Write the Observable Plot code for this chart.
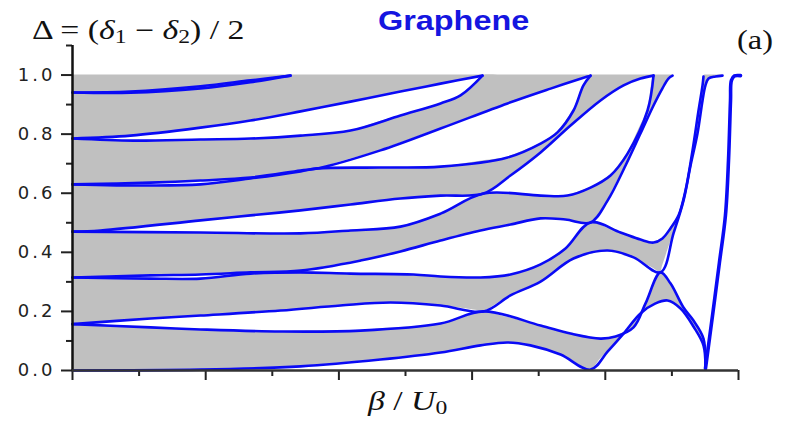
<!DOCTYPE html>
<html><head><meta charset="utf-8">
<script src="https://cdn.jsdelivr.net/npm/d3@7"></script>
<script src="https://cdn.jsdelivr.net/npm/@observablehq/plot@0.6"></script>
<style>
body{margin:0;background:#fff;}
#wrap{position:relative;width:804px;height:421px;overflow:hidden;background:#fff;}
#wrap svg{position:absolute;left:0;top:0;}
.lbl{position:absolute;white-space:nowrap;font-family:"Liberation Serif","Times New Roman",serif;color:#111;transform-origin:left top;line-height:1;}
.ttl{position:absolute;white-space:nowrap;font-family:"Liberation Sans",Arial,sans-serif;font-weight:bold;color:#1515e0;transform-origin:left top;line-height:1;}
.lbl sub{font-size:0.7em;vertical-align:-0.2em;line-height:0;}
</style></head><body><div id="wrap"></div>
<script>
// ---- data (x in units of the axis ticks, y = Delta) ----
const yMajorTicks = [0, 0.2, 0.4, 0.6, 0.8, 1.0];
const yMinorTicks = [0.1, 0.3, 0.5, 0.7, 0.9, 1.1];
const xMajorTicks = [0, 1, 2, 3, 4, 5];
const xMinorTicks = [0.5, 1.5, 2.5, 3.5, 4.5];

const bottomEdge = [[0,0],[0.961,0.003],[1.712,0.014],[2.312,0.037],[2.763,0.061],[3.063,0.085],[3.266,0.095],[3.438,0.085],[3.664,0.054],[3.889,0.003],[4.017,0.064],[4.137,0.125],[4.264,0.193],[4.377,0.227],[4.467,0.237],[4.565,0.210],[4.662,0.149],[4.737,0.085],[4.752,0.007]];
const tongue1Low = [[0,0.157],[0.586,0.146],[0.961,0.139],[1.562,0.132],[2.162,0.135],[2.763,0.159],[3.086,0.200],[3.514,0.152],[3.739,0.125],[3.964,0.108],[4.077,0.115],[4.212,0.146],[4.302,0.227],[4.414,0.332],[4.489,0.295],[4.587,0.213],[4.662,0.169],[4.737,0.108],[4.752,0.007]];
const tongue1High = [[0,0.157],[0.586,0.176],[0.961,0.186],[1.562,0.203],[2.012,0.220],[2.387,0.230],[2.763,0.220],[3.086,0.200],[3.288,0.254],[3.514,0.301],[3.761,0.379],[4.017,0.406],[4.212,0.383],[4.414,0.332],[4.512,0.464],[4.587,0.575],[4.640,0.694],[4.692,0.802],[4.730,0.914],[4.752,0.965],[4.775,0.988],[4.827,0.995],[4.880,0.998]];
const tongue2Low = [[0,0.315],[0.586,0.311],[0.961,0.311],[1.336,0.328],[1.712,0.332],[2.087,0.328],[2.560,0.325],[2.763,0.318],[3.063,0.315],[3.288,0.325],[3.514,0.359],[3.701,0.413],[3.889,0.501],[4.114,0.467],[4.264,0.443],[4.362,0.433],[4.429,0.447],[4.489,0.481],[4.550,0.525],[4.602,0.609],[4.655,0.745],[4.700,0.880],[4.730,0.965],[4.737,0.995]];
const tongue2High = [[0,0.315],[0.586,0.322],[0.961,0.325],[1.336,0.332],[1.712,0.338],[2.162,0.372],[2.462,0.403],[2.763,0.440],[3.063,0.474],[3.288,0.494],[3.514,0.515],[3.701,0.511],[3.889,0.501],[4.017,0.575],[4.152,0.694],[4.264,0.802],[4.362,0.897],[4.429,0.955],[4.474,0.988],[4.505,0.998]];
const tongue3Low = [[0,0.470],[0.961,0.467],[1.712,0.464],[2.087,0.474],[2.462,0.487],[2.763,0.531],[3.086,0.599],[3.514,0.592],[3.716,0.592],[3.889,0.619],[4.039,0.660],[4.167,0.734],[4.317,0.880],[4.362,0.998]];
const tongue3High = [[0,0.470],[0.21,0.474],[0.961,0.508],[1.336,0.525],[1.712,0.542],[2.087,0.562],[2.462,0.582],[2.763,0.592],[3.086,0.599],[3.288,0.660],[3.514,0.738],[3.739,0.829],[3.964,0.914],[4.137,0.965],[4.264,0.988],[4.362,0.998]];
const tongue4Low = [[0,0.630],[0.586,0.626],[0.961,0.630],[1.336,0.650],[1.712,0.674],[1.839,0.684],[2.312,0.687],[2.763,0.690],[3.266,0.721],[3.514,0.768],[3.641,0.806],[3.761,0.880],[3.836,0.965],[3.889,0.998]];
const tongue4High = [[0,0.630],[0.586,0.636],[0.961,0.643],[1.336,0.653],[1.712,0.677],[1.839,0.684],[2.312,0.745],[2.763,0.819],[3.266,0.904],[3.589,0.954],[3.866,0.995],[3.889,0.998]];
const tongue5Low = [[0,0.785],[0.458,0.778],[0.961,0.782],[1.336,0.785],[1.712,0.795],[2.087,0.812],[2.462,0.863],[2.763,0.904],[2.913,0.931],[3.078,0.998]];
const tongue5High = [[0,0.785],[0.435,0.795],[0.961,0.822],[1.336,0.846],[1.712,0.877],[2.087,0.910],[2.462,0.944],[2.763,0.971],[3.078,0.998]];
const tongue6Low = [[0,0.941],[0.435,0.940],[0.961,0.955],[1.336,0.976],[1.637,0.998]];
const tongue6High = [[0,0.941],[0.435,0.944],[0.961,0.962],[1.336,0.982],[1.637,0.998]];
const rightEdge = [[4.752,0.007],[4.805,0.186],[4.857,0.366],[4.902,0.525],[4.925,0.711],[4.940,0.914],[4.947,0.982],[4.970,0.997],[5.015,0.998]];
const topLevel = 1.0;

// ---- helpers to build stable (grey) bands between two edges ----
function interp(c, x) {
  if (x <= c[0][0]) return c[0][1];
  for (let i = 1; i < c.length; i++) {
    if (x <= c[i][0]) {
      const [x0, y0] = c[i - 1], [x1, y1] = c[i];
      return x1 === x0 ? y1 : y0 + (y1 - y0) * (x - x0) / (x1 - x0);
    }
  }
  return c[c.length - 1][1];
}
function withTop(c) { const l = c[c.length - 1]; return c.concat([[l[0] + 0.01, topLevel], [5.2, topLevel]]); }
function band(lower, upper) {
  const xEnd = Math.min(lower[lower.length - 1][0], upper[upper.length - 1][0]);
  const xs = Array.from(new Set([...lower, ...upper].map(d => d[0]).filter(x => x <= xEnd))).sort((a, b) => a - b);
  return xs.map(x => ({x, y1: interp(lower, x), y2: interp(upper, x)}));
}
const bands = [
  band(bottomEdge, tongue1Low),
  band(tongue1High, withTop(tongue2Low)),
  band(tongue2High, withTop(tongue3Low)),
  band(tongue3High, withTop(tongue4Low)),
  band(tongue4High, withTop(tongue5Low)),
  band(tongue5High, withTop(tongue6Low)),
  band(tongue6High, [[0, topLevel], [5.2, topLevel]])
];
const edges = [bottomEdge, tongue1Low, tongue1High, tongue2Low, tongue2High, tongue3Low, tongue3High,
  tongue4Low, tongue4High, tongue5Low, tongue5High, tongue6Low, tongue6High];

const blue = "#0a0af5";
const chart = Plot.plot({
  width: 804, height: 421,
  marginLeft: 72, marginRight: 66, marginTop: 45, marginBottom: 51,
  style: {fontFamily: "'DejaVu Sans', sans-serif", fontSize: "18px", color: "#222", background: "transparent", letterSpacing: "3px"},
  x: {domain: [0, 5], axis: null},
  y: {domain: [0, 1.1], axis: null},
  marks: [
    ...bands.map(b => Plot.areaY(b, {x: "x", y1: "y1", y2: "y2", fill: "#c0c0c0", curve: "catmull-rom"})),
    ...edges.map(c => Plot.line(c, {x: d => d[0], y: d => d[1], stroke: blue, strokeWidth: 2.6, curve: "catmull-rom"})),
    Plot.line(rightEdge, {x: d => d[0], y: d => d[1], stroke: blue, strokeWidth: 3.6, curve: "catmull-rom"}),
    Plot.axisY({ticks: yMajorTicks, tickFormat: d3.format(".1f"), tickSize: 11, tickPadding: 6, label: null, strokeWidth: 2, fontSize: 18}),
    Plot.axisY({ticks: yMinorTicks, tickFormat: () => "", tickSize: 6, label: null, strokeWidth: 2}),
    Plot.axisX({ticks: xMajorTicks, tickFormat: () => "", tickSize: 10, label: null, strokeWidth: 2}),
    Plot.axisX({ticks: xMinorTicks, tickFormat: () => "", tickSize: 6, label: null, strokeWidth: 2}),
    Plot.ruleX([0], {stroke: "#111", strokeWidth: 2.5}),
    Plot.ruleY([0], {stroke: "#333", strokeWidth: 2.5})
  ]
});
const wrap = document.getElementById("wrap");
wrap.appendChild(chart);

function addLabel(cls, html, left, top, size, sx) {
  const d = document.createElement("div");
  d.className = cls; d.innerHTML = html;
  d.style.left = left + "px"; d.style.top = top + "px"; d.style.fontSize = size + "px";
  d.style.transform = `scaleX(${sx})`;
  wrap.appendChild(d);
}
addLabel("ttl", "Graphene", 378, 8, 27, 1.2);
addLabel("lbl", "Δ = (<i>δ</i><sub>1</sub> − <i>δ</i><sub>2</sub>) / 2", 32, 17, 27, 1.25);
addLabel("lbl", "(a)", 737, 27, 27, 1.2);
addLabel("lbl", "<i>β</i> / <i>U</i><sub>0</sub>", 368, 388, 27, 1.25);
</script></body></html>
